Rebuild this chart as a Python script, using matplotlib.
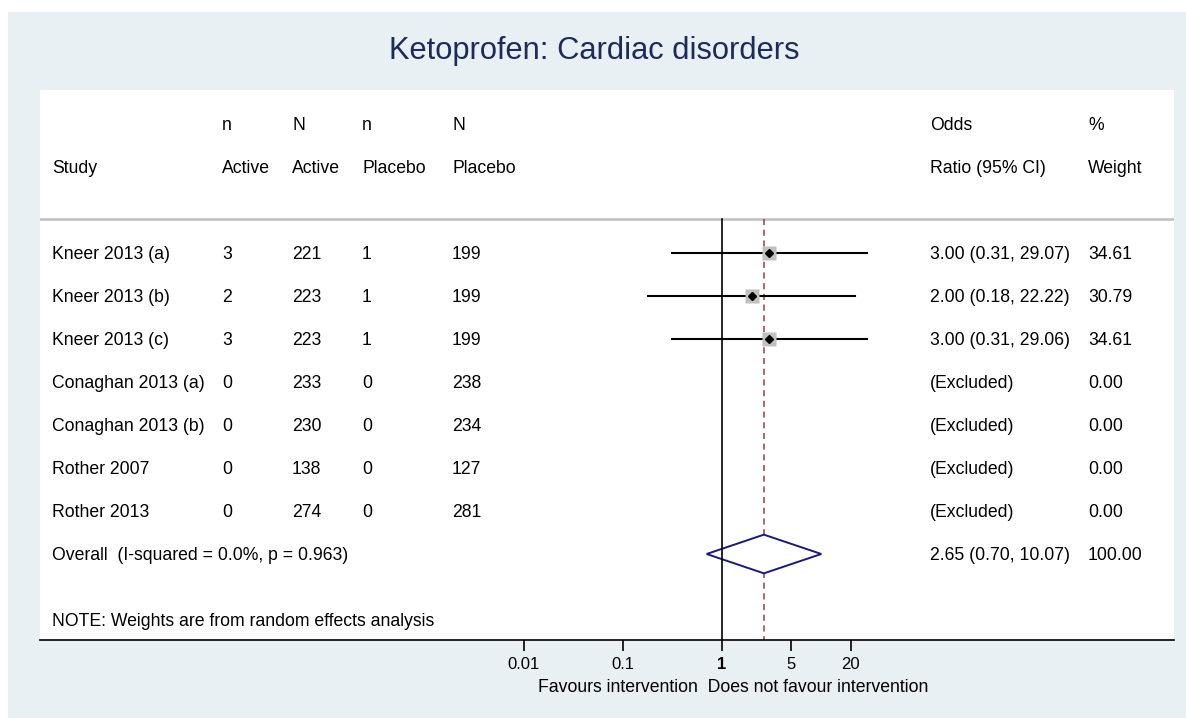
import matplotlib
matplotlib.use("Agg")
import matplotlib.pyplot as plt
import numpy as np
from matplotlib.patches import Rectangle, Polygon

plt.rcParams['font.family'] = ['Liberation Sans', 'DejaVu Sans']

studies = ["Kneer 2013 (a)", "Kneer 2013 (b)", "Kneer 2013 (c)",
           "Conaghan 2013 (a)", "Conaghan 2013 (b)", "Rother 2007", "Rother 2013"]
n_active = [3, 2, 3, 0, 0, 0, 0]
N_active = [221, 223, 223, 233, 230, 138, 274]
n_placebo = [1, 1, 1, 0, 0, 0, 0]
N_placebo = [199, 199, 199, 238, 234, 127, 281]
odds = [3.00, 2.00, 3.00, None, None, None, None]
ci_lo = [0.31, 0.18, 0.31, None, None, None, None]
ci_hi = [29.07, 22.22, 29.06, None, None, None, None]
weight = [34.61, 30.79, 34.61, 0.00, 0.00, 0.00, 0.00]
overall_or, overall_lo, overall_hi = 2.65, 0.70, 10.07
overall_weight = 100.00
overall_label = "Overall  (I-squared = 0.0%, p = 0.963)"
ticks = [0.01, 0.1, 1, 5, 20]
tick_labels = ["0.01", "0.1", "1", "5", "20"]

W, H = 1186, 718
fig = plt.figure(figsize=(W / 100, H / 100), dpi=100, facecolor="white")
bg = "#e9f0f3"
fig.add_artist(Rectangle((8 / W, 0), 1 - 8 / W, 1 - 12 / H, transform=fig.transFigure,
                         facecolor=bg, edgecolor="none", zorder=-5))

fig.text(594 / W, 1 - 47 / H, "Ketoprofen: Cardiac disorders", ha="center",
         va="center_baseline", fontsize=22.2, color="#1c2b5a")

ax = fig.add_axes([40 / W, (H - 640) / H, 1134 / W, 550 / H])
ax.set_zorder(1)
ax.set_facecolor("white")
ax.set_xscale("log")
# 1 sits at x=722px, 99 px per decade
ax.set_xlim(10 ** ((40 - 722) / 99), 10 ** ((1174 - 722) / 99))
ax.set_ylim(9.0, -3.79)
for s in ["top", "left", "right"]:
    ax.spines[s].set_visible(False)
ax.spines["bottom"].set_linewidth(1.2)
ax.set_yticks([])
ax.set_xticks(ticks)
ax.set_xticklabels(tick_labels)
ax.minorticks_off()
ax.tick_params(axis="x", length=8, width=1.2, labelsize=12, pad=4)
for lab in ax.get_xticklabels():
    if lab.get_text() == "1":
        lab.set_fontweight("bold")

fs = 12.7
tr = ax.get_yaxis_transform()  # x in axes fraction, y in data


def col(px):
    return (px - 40) / 1134


def cell(x, y, s):
    ax.text(x, y, s, transform=tr, va="center_baseline", fontsize=fs)


cols = [col(52), col(222), col(292), col(362), col(452), col(930), col(1088)]

# header
for c, s in zip(cols[1:], ["n", "N", "n", "N", "Odds", "%"]):
    cell(c, -3, s)
for c, s in zip(cols, ["Study", "Active", "Active", "Placebo", "Placebo",
                       "Ratio (95% CI)", "Weight"]):
    cell(c, -2, s)
ax.axhline(-0.79, color="#c4c4c4", lw=2)

# reference lines
ax.plot([1, 1], [-0.79, 9.0], color="black", lw=1.2, zorder=4)
ax.plot([overall_or, overall_or], [-0.79, 9.0], color="#a33a3a", lw=1.1,
        ls=(0, (4, 3)), zorder=2)

for i, name in enumerate(studies):
    cell(cols[0], i, name)
    cell(cols[1], i, str(n_active[i]))
    cell(cols[2], i, str(N_active[i]))
    cell(cols[3], i, str(n_placebo[i]))
    cell(cols[4], i, str(N_placebo[i]))
    if odds[i] is None:
        est = "(Excluded)"
    else:
        est = f"{odds[i]:.2f} ({ci_lo[i]:.2f}, {ci_hi[i]:.2f})"
        ax.plot([ci_lo[i], ci_hi[i]], [i, i], color="black", lw=1.5, zorder=3)
        ax.plot(odds[i], i, marker="s", ms=10.2 * np.sqrt(weight[i] / 34.61),
                color="#c0c0c0", mec="none", zorder=5)
        ax.plot(odds[i], i, marker="D", ms=4.2, color="black", zorder=6)
    cell(cols[5], i, est)
    cell(cols[6], i, f"{weight[i]:.2f}")

yo = len(studies)
cell(cols[0], yo, overall_label)
dia = Polygon([[overall_lo, yo], [overall_or, yo - 0.45], [overall_hi, yo],
               [overall_or, yo + 0.45]], closed=True, facecolor="white",
              edgecolor="#1a1a78", lw=1.4, zorder=3)
ax.add_patch(dia)
cell(cols[5], yo, f"{overall_or:.2f} ({overall_lo:.2f}, {overall_hi:.2f})")
cell(cols[6], yo, f"{overall_weight:.2f}")

cell(cols[0], 8.53, "NOTE: Weights are from random effects analysis")

ax.text(col(733), -(686 - 640) / 550, "Favours intervention  Does not favour intervention",
        transform=ax.transAxes, ha="center", va="center_baseline", fontsize=fs)

fig.savefig("out.png", dpi=100, facecolor=fig.get_facecolor())
